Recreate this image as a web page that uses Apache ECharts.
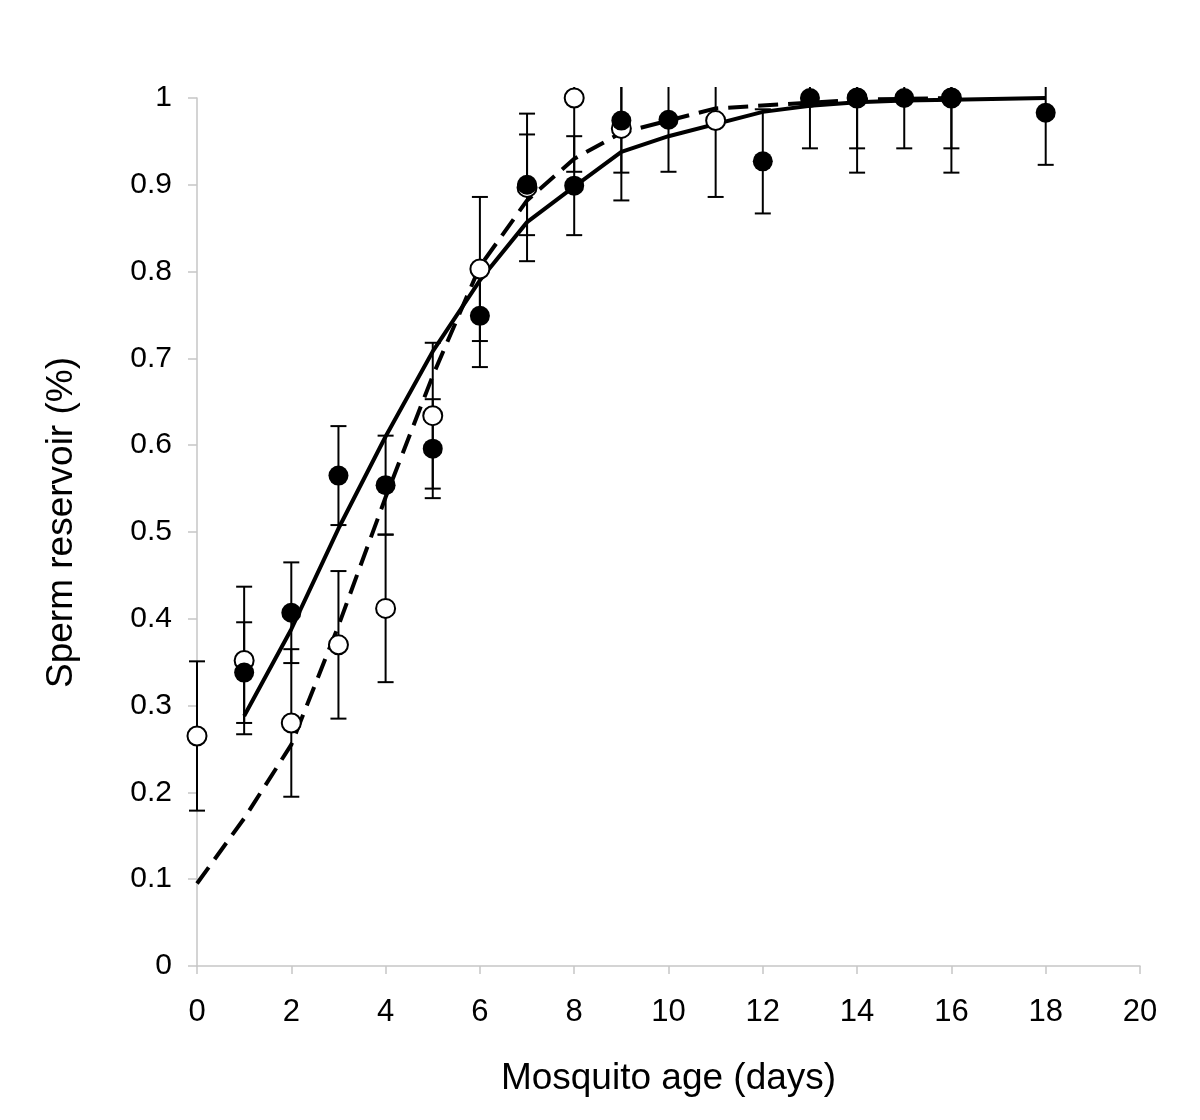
<!DOCTYPE html>
<html>
<head>
<meta charset="utf-8">
<script src="https://cdn.jsdelivr.net/npm/echarts@6/dist/echarts.min.js"></script>
<style>
html,body{margin:0;padding:0;background:#fff;}
#chart{width:1200px;height:1120px;}
</style>
</head>
<body>
<div id="chart"></div>
<script>
// Filled circles (solid fit)
const filledDays = [1, 2, 3, 4, 5, 6, 7, 8, 9, 10, 12, 13, 14, 15, 16, 18];
const filledMean = [0.338, 0.407, 0.565, 0.554, 0.596, 0.749, 0.900, 0.899, 0.974, 0.975, 0.927, 1.0, 1.0, 1.0, 1.0, 0.983];
const filledErr  = [0.058, 0.058, 0.057, 0.057, 0.057, 0.059, 0.058, 0.057, 0.060, 0.060, 0.060, 0.058, 0.058, 0.058, 0.058, 0.060];

// Open circles (dashed fit)
const openDays = [0, 1, 2, 3, 4, 5, 6, 7, 8, 9, 11, 14, 16];
const openMean = [0.265, 0.352, 0.280, 0.370, 0.412, 0.634, 0.803, 0.897, 1.0, 0.965, 0.974, 1.0, 1.0];
const openErr  = [0.086, 0.085, 0.085, 0.085, 0.085, 0.084, 0.083, 0.085, 0.085, 0.083, 0.088, 0.086, 0.086];

// Fitted curves
const solidFitDays = [1, 2, 3, 4, 5, 6, 7, 8, 9, 10, 12, 13, 14, 15, 16, 18];
const solidFitVals = [0.288, 0.388, 0.504, 0.610, 0.708, 0.790, 0.857, 0.898, 0.938, 0.956, 0.984, 0.991, 0.995, 0.997, 0.998, 1.0];
const dashFitDays = [0, 1, 2, 3, 4, 5, 6, 7, 8, 9, 11, 14, 16];
const dashFitVals = [0.095, 0.170, 0.255, 0.392, 0.540, 0.680, 0.806, 0.882, 0.930, 0.960, 0.988, 0.998, 1.0];

const xTicks = {min: 0, max: 20, step: 2};
const yTicks = {min: 0, max: 1, step: 0.1};
const xTitle = 'Mosquito age (days)';
const yTitle = 'Sperm reservoir (%)';

const AXIS_GRAY = '#c6c6c6';
const FONT = 'Liberation Sans, Arial, sans-serif';
const CLIP_TOP = 1.0127;

function zip(a, b) { return a.map((v, i) => [v, b[i]]); }
function errData(days, mean, err) { return days.map((d, i) => [d, mean[i] - err[i], mean[i] + err[i]]); }

function errRender(params, api) {
  const x = api.value(0);
  const lo = api.value(1);
  let hi = api.value(2);
  let capTop = true;
  if (hi > CLIP_TOP) { hi = CLIP_TOP; capTop = false; }
  const pLo = api.coord([x, lo]);
  const pHi = api.coord([x, hi]);
  const half = 8;
  const style = {stroke: '#000', lineWidth: 2};
  const children = [
    {type: 'line', shape: {x1: pLo[0], y1: pLo[1], x2: pHi[0], y2: pHi[1]}, style: style},
    {type: 'line', shape: {x1: pLo[0] - half, y1: pLo[1], x2: pLo[0] + half, y2: pLo[1]}, style: style}
  ];
  if (capTop) children.push({type: 'line', shape: {x1: pHi[0] - half, y1: pHi[1], x2: pHi[0] + half, y2: pHi[1]}, style: style});
  return {type: 'group', children: children};
}

const chart = echarts.init(document.getElementById('chart'), null, {renderer: 'canvas'});
chart.setOption({
  animation: false,
  backgroundColor: '#fff',
  grid: {left: 197, right: 60, top: 98, bottom: 154, containLabel: false},
  graphic: [{
    type: 'text', left: 43, top: 357,
    style: {text: yTitle, fontFamily: FONT, fontSize: 37, fill: '#000'},
    rotation: Math.PI / 2, originX: 0, originY: 0
  }],
  xAxis: {
    type: 'value', min: xTicks.min, max: xTicks.max, interval: xTicks.step,
    name: xTitle, nameLocation: 'middle', nameGap: 94,
    nameTextStyle: {fontFamily: FONT, fontSize: 37, color: '#000'},
    axisLine: {show: true, lineStyle: {color: AXIS_GRAY, width: 1.5}},
    axisTick: {show: true, length: 8, lineStyle: {color: AXIS_GRAY, width: 1.5}},
    axisLabel: {fontFamily: FONT, fontSize: 31, color: '#000', margin: 31},
    splitLine: {show: false}
  },
  yAxis: {
    type: 'value', min: yTicks.min, max: yTicks.max, interval: yTicks.step,
    axisLine: {show: true, lineStyle: {color: AXIS_GRAY, width: 1.5}},
    axisTick: {show: true, length: 9, lineStyle: {color: AXIS_GRAY, width: 1.5}},
    axisLabel: {fontFamily: FONT, fontSize: 30, color: '#000', margin: 25},
    splitLine: {show: false}
  },
  series: [
    {type: 'custom', name: 'openErr', renderItem: errRender, data: errData(openDays, openMean, openErr), clip: false, z: 2, encode: {x: 0, y: [1, 2]}},
    {type: 'custom', name: 'filledErr', renderItem: errRender, data: errData(filledDays, filledMean, filledErr), clip: false, z: 2, encode: {x: 0, y: [1, 2]}},
    {type: 'line', name: 'solidFit', data: zip(solidFitDays, solidFitVals), showSymbol: false, symbol: 'none', z: 3,
      lineStyle: {color: '#000', width: 4, type: 'solid'}},
    {type: 'line', name: 'dashFit', data: zip(dashFitDays, dashFitVals), showSymbol: false, symbol: 'none', z: 3,
      lineStyle: {color: '#000', width: 4, type: [20, 10]}},
    {type: 'scatter', name: 'open', data: zip(openDays, openMean), symbol: 'circle', symbolSize: 19, z: 4,
      itemStyle: {color: '#fff', borderColor: '#000', borderWidth: 2, opacity: 1}},
    {type: 'scatter', name: 'filled', data: zip(filledDays, filledMean), symbol: 'circle', symbolSize: 20, z: 5,
      itemStyle: {color: '#000', borderColor: '#000', borderWidth: 0, opacity: 1}}
  ]
});
</script>
</body>
</html>
